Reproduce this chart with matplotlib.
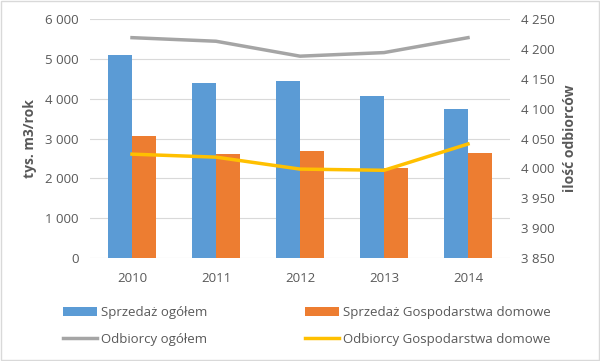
import numpy as np
import matplotlib.pyplot as plt
from matplotlib.ticker import FuncFormatter

years = ["2010", "2011", "2012", "2013", "2014"]
sprzedaz_ogolem = [5100, 4400, 4450, 4070, 3740]
sprzedaz_gosp = [3065, 2610, 2690, 2260, 2640]
odbiorcy_ogolem = [4219, 4213, 4188, 4194, 4219]
odbiorcy_gosp = [4024, 4019, 3999, 3997, 4041]

plt.rcParams['font.family'] = ['Open Sans', 'DejaVu Sans']
txt = "#595959"

fig = plt.figure(figsize=[6, 3.61], dpi=100)
ax = fig.add_axes([0.15, 0.285, 0.70, 0.662])
ax2 = ax.twinx()

x = np.arange(len(years))
w = 0.28
b1 = ax.bar(x - w / 2, sprzedaz_ogolem, w, color="#5B9BD5", zorder=2)
b2 = ax.bar(x + w / 2, sprzedaz_gosp, w, color="#ED7D31", zorder=2)
l1, = ax2.plot(x, odbiorcy_ogolem, color="#A5A5A5", lw=2.5)
l2, = ax2.plot(x, odbiorcy_gosp, color="#FFC000", lw=2.5)

fmt = FuncFormatter(lambda v, p: f"{int(v):,}".replace(",", " "))
ax.set_ylim(0, 6000)
ax.set_yticks(range(0, 6001, 1000))
ax.yaxis.set_major_formatter(fmt)
ax2.set_ylim(3850, 4250)
ax2.set_yticks(range(3850, 4251, 50))
ax2.yaxis.set_major_formatter(fmt)

ax.set_xlim(-0.5, 4.5)
ax.set_xticks(x)
ax.set_xticklabels(years)
ax.grid(axis="y", color="#D9D9D9", lw=0.8, zorder=0)
for a in (ax, ax2):
    for s in a.spines.values():
        s.set_visible(False)
    a.tick_params(length=0, labelsize=9.5, colors=txt, pad=8)
ax.tick_params(axis="x", pad=10)

ax.set_ylabel("tys. m3/rok", fontsize=10, fontweight="bold", color=txt, labelpad=6)
ax2.set_ylabel("ilość odbiorców", fontsize=10, fontweight="bold", color=txt, labelpad=6)

# column-first order -> rows: Sprzedaż..., Odbiorcy...
fig.legend([b1, l1, b2, l2],
           ["Sprzedaż ogółem", "Odbiorcy ogółem", "Sprzedaż Gospodarstwa domowe", "Odbiorcy Gospodarstwa domowe"],
           ncol=2, loc="lower left", bbox_to_anchor=(0.085, 0.01), frameon=False,
           fontsize=9.5, labelcolor=txt, handlelength=2.6, handletextpad=0.3,
           columnspacing=7.4, labelspacing=1.0)

fig.patches.append(plt.Rectangle((0.002, 0.003), 0.996, 0.994, transform=fig.transFigure,
                                 fill=False, edgecolor="#D9D9D9", lw=1))
fig.savefig("out.png", dpi=100)
